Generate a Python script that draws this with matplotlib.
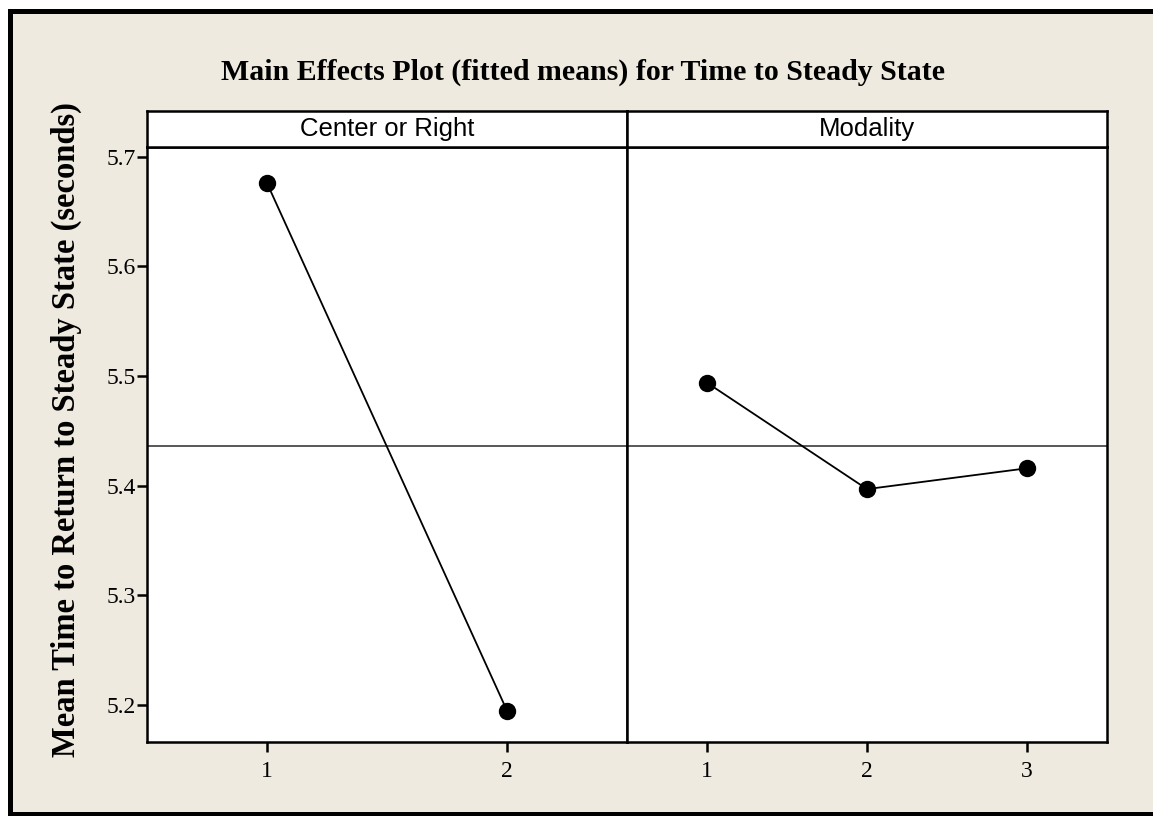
import matplotlib
matplotlib.use("Agg")
import matplotlib.pyplot as plt
from matplotlib.patches import Rectangle

# fitted means
factors = ["Center or Right", "Modality"]
levels_cr = [1, 2]
means_cr = [5.676, 5.195]
levels_mod = [1, 2, 3]
means_mod = [5.494, 5.397, 5.416]
grand_mean = 5.436
yticks = [5.2, 5.3, 5.4, 5.5, 5.6, 5.7]

title = "Main Effects Plot (fitted means) for Time to Steady State"
ylabel = "Mean Time to Return to Steady State (seconds)"

W, H = 1153, 816
fig = plt.figure(figsize=(W / 100, H / 100), dpi=100)
fig.patch.set_facecolor("white")

serif = ["Liberation Serif", "DejaVu Serif"]
narrow = ["Liberation Sans Narrow", "Liberation Sans", "DejaVu Sans"]
beige = "#EEEAE0"

# beige frame with heavy black border (right edge runs off the image)
fig.patches.append(Rectangle((9.5 / W, (H - 813.5) / H), 1.2, (813.5 - 10.5) / H,
                             transform=fig.transFigure, facecolor=beige,
                             edgecolor="black", linewidth=3.6, zorder=-5))

def px(x0, y0, x1, y1):
    return [x0 / W, (H - y1) / H, (x1 - x0) / W, (y1 - y0) / H]

left, mid, right = 147, 627, 1107
top, bot, strip_top = 146.7, 741.7, 110.7
ylim = (5.1667, 5.7092)

panels = [
    (left, mid, levels_cr, means_cr, (0.5, 2.5)),
    (mid, right, levels_mod, means_mod, (0.5, 3.5)),
]

for i, (x0, x1, lv, mv, xl) in enumerate(panels):
    ax = fig.add_axes(px(x0, top, x1, bot))
    ax.set_zorder(2)
    ax.set_facecolor("white")
    ax.axhline(grand_mean, color="#4a4a4a", lw=1.3, zorder=1)
    ax.plot(lv, mv, color="black", lw=1.3, marker="o", ms=11.5,
            markerfacecolor="black", markeredgecolor="black", zorder=3)
    ax.set_xlim(*xl)
    ax.set_ylim(*ylim)
    ax.set_xticks(lv)
    ax.set_xticklabels([str(v) for v in lv], fontfamily=serif, fontsize=17)
    ax.tick_params(axis="x", direction="out", length=7, width=1.8, pad=7)
    if i == 0:
        ax.set_yticks(yticks)
        ax.set_yticklabels([f"{v:.1f}" for v in yticks], fontfamily=serif, fontsize=17)
        ax.tick_params(axis="y", direction="out", length=7, width=1.8, pad=1)
    else:
        ax.set_yticks([])
    for s in ax.spines.values():
        s.set_linewidth(1.8)

    # strip header
    sx = fig.add_axes(px(x0, strip_top, x1, top))
    sx.set_zorder(2)
    sx.set_facecolor("white")
    sx.set_xticks([])
    sx.set_yticks([])
    for s in sx.spines.values():
        s.set_linewidth(1.8)
    sx.text(0.5, 0.5, factors[i], ha="center", va="center", fontsize=18.5,
            family=narrow, transform=sx.transAxes)

fig.text(583 / W, 1 - 72 / H, title, ha="center", va="center", fontsize=21.5,
         fontweight="bold", family=serif)
fig.text(66 / W, 1 - 430 / H, ylabel, ha="center", va="center", rotation=90,
         fontsize=23.5, fontweight="bold", family=serif)

fig.savefig("out.png", dpi=100)
